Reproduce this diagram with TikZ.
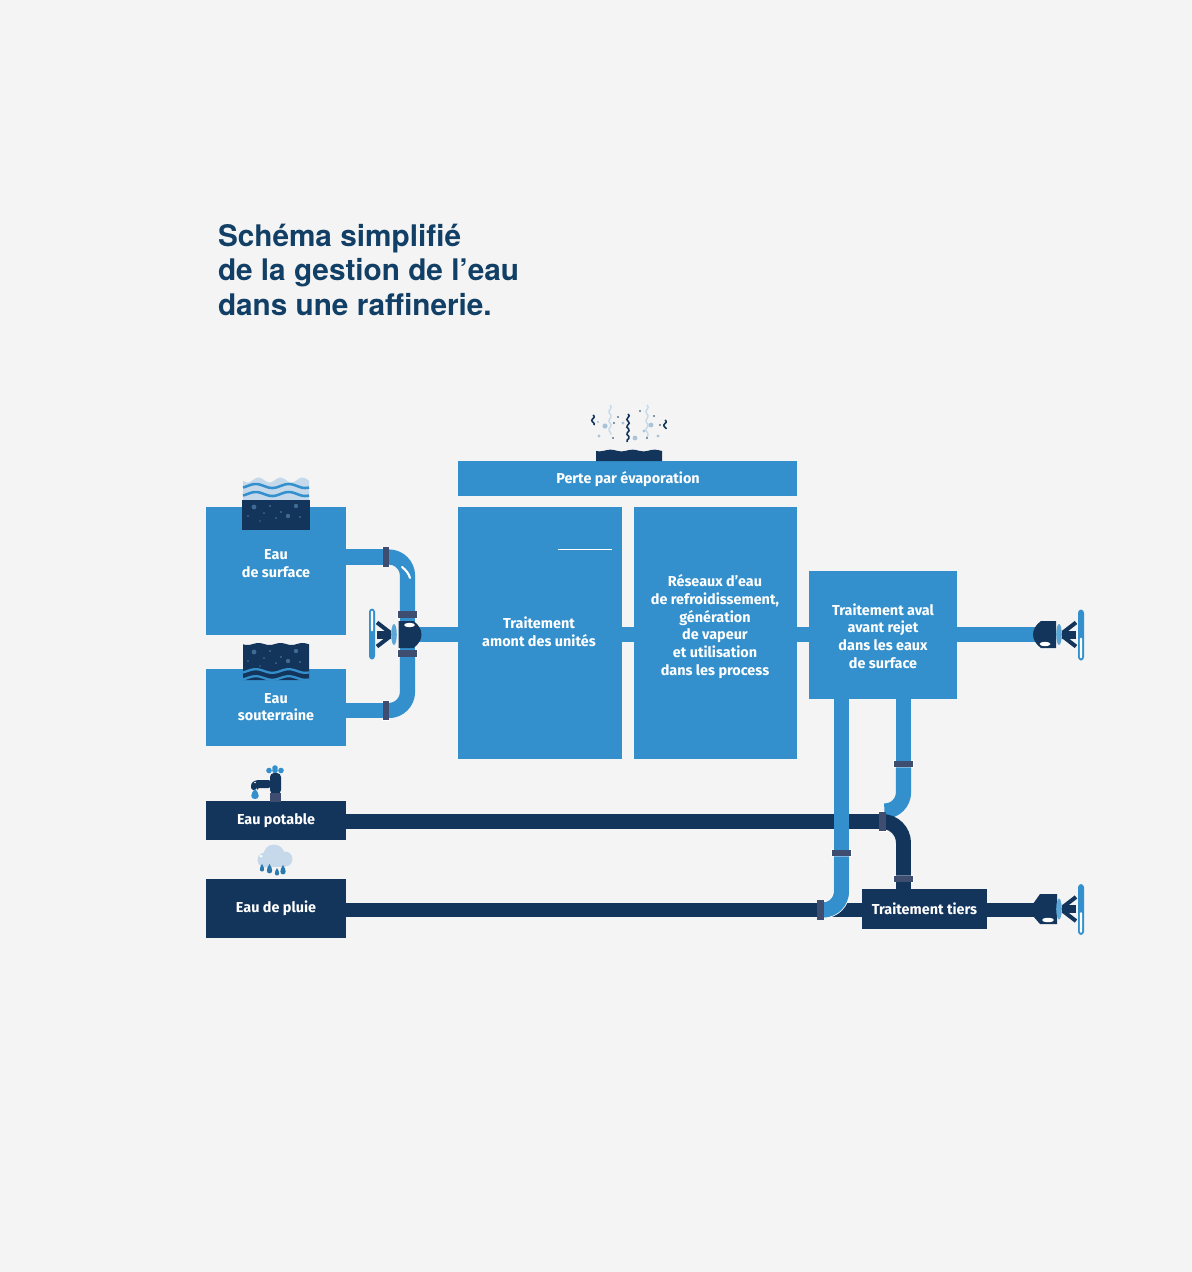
\documentclass[tikz,border=0pt]{standalone}
\usepackage{fontspec}
\setmainfont{Fira Sans}[BoldFont={Fira Sans Bold}]
\newfontfamily\titlefont{TeX Gyre Heros}
\usetikzlibrary{positioning,calc}
\definecolor{pipeblue}{HTML}{3390CC}
\definecolor{pipedark}{HTML}{14355B}
\definecolor{flangegrey}{HTML}{3F4E70}
\definecolor{paperbg}{HTML}{F4F4F4}
\definecolor{titleblue}{HTML}{123F66}
\definecolor{paleblue}{HTML}{C6D9EA}
\definecolor{dotblue}{HTML}{3F6A94}

\tikzset{
  valvehand/.pic={
    \fill[pipeblue!80!white] (14,0) ellipse (2.8 and 10.5);
    \draw[pipedark, line width=6] (17,0) -- (31,0);
    \draw[pipedark, line width=3] (18,-2) -- (31,-12);
    \draw[pipedark, line width=3] (18,2) -- (31,12);
    \fill[pipeblue, rounded corners=2.5] (33,-25) rectangle (39,26);
    \fill[white, rounded corners=1] (34.8,3) rectangle (37.2,24);
  },
  valvebody/.pic={
    \fill[pipedark] (11,-13.5) -- (-4,-13.5) .. controls (-9,-10) and (-12,-5) .. (-12,0)
        .. controls (-12,5) and (-9,10) .. (-4,13.5) -- (11,13.5) -- cycle;
    \fill[white] (0,9.5) ellipse (5.5 and 2.2);
  },
  waterdots/.pic={
    \foreach \dx/\dy/\dr in {-22/7/2.4,-12/13/1,-6/6/1.2,0/18/1,5/12/1.2,12/16/2.2,20/6/2.2,-28/16/1,-16/21/.8,24/17/1.2}
      \fill[dotblue] (\dx,\dy) circle (\dr);
  },
  evapdrop/.pic={
    \fill (0,-4) .. controls (2.8,0) and (2.8,3.5) .. (0,3.5) .. controls (-2.8,3.5) and (-2.8,0) .. (0,-4);
  }
}

\begin{document}
\begin{tikzpicture}[x=0.75pt, y=-0.75pt,
    every node/.style={inner sep=0pt, outer sep=0pt},
    boxsize/.style 2 args={minimum width=#1*0.75pt, minimum height=#2*0.75pt},
    bluebox/.style={fill=pipeblue},
    darkbox/.style={fill=pipedark},
    boxtext/.style={text=white, align=center, font=\bfseries\fontsize{10.8pt}{13.3pt}\selectfont},
    pipe/.style={draw=pipeblue, line width=11.4pt},
    darkpipe/.style={draw=pipedark, line width=11.2pt},
    pipeedge/.style={preaction={draw=white, line width=12.6pt}},
    flangeH/.style={fill=flangegrey, draw=white, line width=.5pt, minimum width=14.6pt, minimum height=5pt},
    flangeV/.style={fill=flangegrey, draw=white, line width=.5pt, minimum width=5pt, minimum height=14.6pt}]
    \useasboundingbox (0,0) rectangle (1192,1272);
    \fill[paperbg] (0,0) rectangle (1192,1272);

    \node[anchor=west, align=left, text=titleblue,
          font=\titlefont\bfseries\fontsize{22.3pt}{25.9pt}\selectfont] (nodeTitle) at (218,269.6)
        {Schéma simplifié\\de la gestion de l’eau\\dans une raffinerie.};

    % boxes
    \node[bluebox, boxsize={339}{35}] (nodeEvap) at (627.5,478.5) {};
    \node[bluebox, boxsize={140}{128}] (nodeSurface) at (276,571) {};
    \node[bluebox, boxsize={140}{77}] (nodeGround) at (276,707.5) {};
    \node[bluebox, boxsize={164}{252}] (nodeUpstream) at (540,633) {};
    \node[bluebox, boxsize={163}{252}] (nodeNetworks) at (715.5,633) {};
    \node[bluebox, boxsize={148}{128}] (nodeDownstream) at (883,635) {};
    \node[darkbox, boxsize={140}{39}] (nodeDrinking) at (276,820.5) {};
    \node[darkbox, boxsize={140}{59}] (nodeRain) at (276,908.5) {};

    % flanges, valves, free ends
    \node[flangeV] (flangeSurface) at (386,557) {};
    \node[flangeV] (flangeGround) at (386,710.5) {};
    \node[flangeH] (flangeValveTop) at (407.5,614.5) {};
    \node[flangeH] (flangeValveBottom) at (407.5,653.5) {};
    \node[flangeH] (flangeCool) at (903.5,764) {};
    \node[flangeH] (flangeDown) at (841.5,853) {};
    \node[flangeH] (flangeTiers) at (903.5,879) {};
    \node[flangeV] (flangeDrinking) at (882.5,821.5) {};
    \node[flangeV] (flangeRain) at (820.5,910) {};
    \coordinate (valveMain) at (408,634.5);
    \coordinate (valveOut) at (1045,634.5);
    \coordinate (valveTiers) at (1045,910);
    \coordinate (coolEnd) at (885,811);

    % dark pipes
    \draw[darkpipe] (nodeDrinking.east |- flangeDrinking) -- (flangeDrinking);
    \draw[darkpipe] (nodeRain.east |- flangeRain) -- (flangeRain);
    \draw[darkpipe] (flangeRain) -- (valveTiers);

    % blue pipes
    \draw[pipe] (nodeSurface.east |- flangeSurface) -- (flangeSurface);
    \draw[pipe] (nodeGround.east |- flangeGround) -- (flangeGround);
    \draw[pipe, rounded corners=14pt] (flangeSurface) -| (flangeValveTop);
    \draw[pipe, rounded corners=14pt] (flangeGround) -| (flangeValveBottom);
    \draw[pipe] (flangeValveTop) -- (flangeValveBottom);
    \draw[pipe] (valveMain) -- (valveMain -| nodeUpstream.west);
    \draw[pipe] (nodeUpstream.east |- valveMain) -- (nodeNetworks.west |- valveMain);
    \draw[pipe] (nodeNetworks.east |- valveMain) -- (nodeDownstream.west |- valveMain);
    \draw[pipe] (nodeDownstream.east |- valveOut) -- (valveOut);
    \draw[pipe] (nodeDownstream.south -| flangeDown) -- (flangeDown);
    \draw[pipe] (nodeDownstream.south -| flangeCool) -- (flangeCool);
    \draw[pipe, rounded corners=14pt] (flangeCool) |- (coolEnd);
    \draw[pipe, pipeedge, rounded corners=14pt] (flangeDown) |- (flangeRain);
    \draw[darkpipe, rounded corners=16pt] (flangeDrinking) -| (flangeTiers);
    \draw[darkpipe] (flangeTiers) -- (flangeTiers |- 0,889);

    \node[darkbox, boxsize={125}{40}] (nodeTiers) at (924.5,909) {};
    \foreach \fl in {flangeSurface,flangeGround,flangeValveTop,flangeValveBottom,flangeCool,flangeDown,flangeTiers,flangeDrinking,flangeRain}
        \fill[flangegrey] (\fl.south west) rectangle (\fl.north east);
    \draw[white, line width=1.6pt, line cap=round] (402,567) .. controls (406,570) and (409,574) .. (410,578);

    % valves
    \pic[rotate=180] at (409.5,634.5) {valvebody};
    \pic[rotate=180] at (408,634.5) {valvehand};
    \pic at (1045,634.5) {valvebody};
    \pic at (1045,634.5) {valvehand};
    \fill[pipedark] (1057,894) -- (1040,894) -- (1033,904) -- (1033,916) -- (1040,924) -- (1057,924) -- cycle;
    \fill[white] (1048,920) ellipse (6 and 2.2);
    \pic at (1045,909) {valvehand};

    % water over the surface box
    \fill[paleblue] plot[domain=243:309, samples=50, smooth] (\x,{480+2.5*sin(\x/22*360)}) -- (309,500) -- (243,500) -- cycle;
    \foreach \wy in {486,494}
        \draw[pipeblue, line width=1.9pt] plot[domain=243:309, samples=50, smooth] (\x,{\wy+2*sin(\x/33*360)});
    \fill[pipedark] (242,500) rectangle (310,530);
    \pic at (276,500) {waterdots};

    % water over the ground box
    \fill[pipedark] plot[domain=243:309, samples=50, smooth] (\x,{644+1*sin(\x/22*360)}) -- (309,680) -- (243,680) -- cycle;
    \pic at (276,645) {waterdots};
    \foreach \wy in {671,678}
        \draw[pipeblue, line width=1.7pt] plot[domain=243:309, samples=50, smooth] (\x,{\wy+1.8*sin(\x/33*360)});

    % evaporation
    \fill[pipedark] plot[domain=596:662, samples=50, smooth] (\x,{450.5+.8*sin(\x/22*360)}) -- (662,461) -- (596,461) -- cycle;
    \foreach \ex/\ey/\elen in {610/405/30,647/405/32}
        \draw[paleblue, line width=1pt] plot[domain=0:\elen, samples=16, smooth] ({\ex+1.2*sin(\x*40)},{\ey+\x});
    \foreach \ex/\ey/\elen in {593/415/10,628/414/28,665/420/9}
        \draw[pipedark, line width=1.2pt] plot[domain=0:\elen, samples=16, smooth] ({\ex+1.2*sin(\x*50)},{\ey+\x});
    \foreach \dx/\dy/\dr in {605/426/2.6,635/438/2.4,651/425/2.4,623/423/1.6,598/422/1.2,599/436/1.6,658/436/1.6,644/431/1.6}
        \fill[paleblue!80!dotblue] (\dx,\dy) circle (\dr);
    \foreach \dx/\dy in {618/417,613/438,647/438,640/411,654/416,660/425,614/423}
        \fill[pipedark] (\dx,\dy) circle (.9);

    % tap
    \foreach \dx/\dy in {269/770.5,275/770.5,281/770.5,275/768}
        \fill[pipeblue] (\dx,\dy) circle (2.8);
    \fill[pipedark, rounded corners=3] (270,773) rectangle (281,794);
    \fill[pipedark, rounded corners=2] (251,790) -- (251,783) -- (256,780) -- (271,780) -- (271,788) -- (257,788) -- (257,790) -- cycle;
    \fill[flangegrey] (270,793) rectangle (281,802);
    \fill[white] (255,782.5) circle (.9);
    \fill[pipeblue] (255,789) .. controls (260,794) and (260,799) .. (255,799) .. controls (250,799) and (250,794) .. (255,789);

    % cloud
    \fill[paleblue] (265,860) circle (7.5);
    \fill[paleblue] (274,855) circle (10.5);
    \fill[paleblue] (285,859) circle (7.5);
    \fill[paleblue] (265,858) rectangle (285,867);
    \fill[white] (261,856) circle (1.5);
    \foreach \dx/\dy/\dsc in {262/868/1,269.5/869/1.25,277/872/1,283/870/1.25}
        \pic[pipeblue!85!black, scale=\dsc] at (\dx,\dy) {evapdrop};

    % labels
    \node[boxtext] (textEvap) at (628,478.7) {Perte par évaporation};
    \node[boxtext] (textSurface) at (276,563.7) {Eau\\de surface};
    \node[boxtext] (textGround) at (276,707) {Eau\\souterraine};
    \node[boxtext] (textUpstream) at (539,632) {Traitement\\amont des unités};
    \node[boxtext] (textNetworks) at (715,626.7) {Réseaux d’eau\\de refroidissement,\\génération\\de vapeur\\et utilisation\\dans les process};
    \node[boxtext] (textDownstream) at (883,636) {Traitement aval\\avant rejet\\dans les eaux\\de surface};
    \node[boxtext] (textDrinking) at (276,820.7) {Eau potable};
    \node[boxtext] (textRain) at (276,908.7) {Eau de pluie};
    \node[boxtext] (textTiers) at (924.5,908.5) {Traitement tiers};
    \draw[white, line width=.6pt] (558,549.5) -- (612,549.5);
\end{tikzpicture}
\end{document}
